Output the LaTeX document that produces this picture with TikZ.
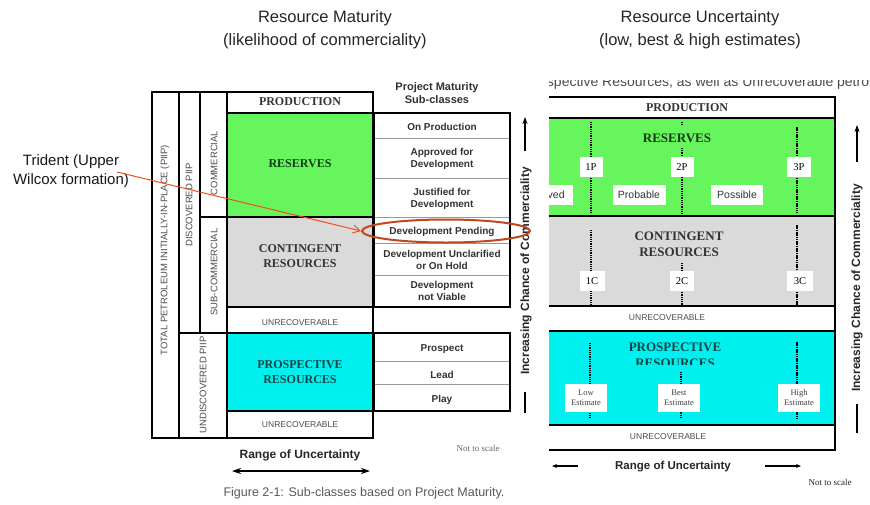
\documentclass[tikz,border=0pt]{standalone}
\usepackage{fontspec}
\setmainfont{Liberation Serif}
\setsansfont{Liberation Sans}
\usetikzlibrary{arrows.meta,shapes.geometric}
\definecolor{resgreen}{RGB}{102,245,92}
\definecolor{rescyan}{RGB}{0,240,240}
\definecolor{resgray}{RGB}{218,218,218}
\definecolor{ovalred}{RGB}{192,72,30}
\definecolor{arrred}{RGB}{240,80,30}
\definecolor{txtgreen}{RGB}{20,60,20}
\definecolor{txtteal}{RGB}{15,70,70}
\definecolor{txtgray}{RGB}{50,50,50}
\tikzset{
  bx/.style={line width=2pt, black},
  sepline/.style={line width=0.6pt, black!40},
  hdr/.style={font=\sffamily\fontsize{16.5}{23}\selectfont, text=black!85, align=center},
  sub/.style={font=\sffamily\bfseries\fontsize{10}{12.5}\selectfont, text=txtgray, align=center},
  mainlbl/.style={font=\bfseries\fontsize{12}{15}\selectfont, align=center},
  tinylbl/.style={font=\sffamily\fontsize{8.5}{9}\selectfont, text=black!70},
  vlbl/.style={font=\sffamily\fontsize{9.5}{10}\selectfont, text=black!70, rotate=90},
  vtitle/.style={font=\sffamily\bfseries\fontsize{12}{14}\selectfont, text=black!85, rotate=90},
  dotl/.style={line width=1.1pt, dash pattern=on 0.9pt off 0.9pt},
  dotthick/.style={line width=1.8pt, dash pattern=on 1.6pt off 0.7pt},
  tag/.style={fill=white, inner sep=0pt, font=\fontsize{10.5}{12}\selectfont},
  stag/.style={fill=white, inner sep=0pt, font=\sffamily\fontsize{10.5}{12}\selectfont, text=black!80},
  etag/.style={fill=white, inner sep=0pt, align=center, font=\fontsize{8.5}{10}\selectfont, text=black!75, minimum width=42pt, minimum height=28pt},
  dblarrow/.style={line width=1.6pt, arrows={Stealth[length=9pt,width=6pt]-Stealth[length=9pt,width=6pt]}},
}
\begin{document}
\begin{tikzpicture}[x=1pt,y=-1pt]
\useasboundingbox (0,0) rectangle (870,504);
\fill[white] (0,0) rectangle (870,504);

% headers
\node[hdr] (hmat) at (325,30) {Resource Maturity\\(likelihood of commerciality)};
\node[hdr] (hunc) at (700,30) {Resource Uncertainty\\(low, best \& high estimates)};

% ---------- left panel ----------
\fill[resgreen] (227,113) rectangle (373,217);
\fill[resgray] (227,217) rectangle (373,307);
\fill[rescyan] (227,333) rectangle (373,411);
\draw[bx] (152,92) rectangle (373,438);
\draw[bx] (179,92) -- (179,438);
\draw[bx] (200,92) -- (200,333);
\draw[bx] (179,333) -- (227,333);
\draw[bx] (200,217) -- (227,217);
\draw[bx] (227,92) -- (227,438);
\draw[bx] (227,113) -- (373,113);
\draw[bx] (227,217) -- (373,217);
\draw[bx] (227,307) -- (373,307);
\draw[bx] (227,333) -- (373,333);
\draw[bx] (227,411) -- (373,411);

% sub-class boxes
\foreach \yy in {138,178,217,243,275} \draw[sepline] (374,\yy) -- (510,\yy);
\foreach \yy in {361,384} \draw[sepline] (374,\yy) -- (510,\yy);
\draw[bx] (374,113) rectangle (510,307);
\draw[bx] (374,333) rectangle (510,411);

% column labels
\node[vlbl] (ltot) at (165,250) {TOTAL PETROLEUM INITIALLY-IN-PLACE (PIIP)};
\node[vlbl] (ldisc) at (189,205) {DISCOVERED PIIP};
\node[vlbl] (lcom) at (214,163) {COMMERCIAL};
\node[vlbl] (lsub) at (214,272) {SUB-COMMERCIAL};
\node[vlbl] (lund) at (203,385) {UNDISCOVERED PIIP};

% main labels
\node[mainlbl, text=black!80] (lprod) at (300,102) {PRODUCTION};
\node[mainlbl, text=txtgreen] (lres) at (300,164) {RESERVES};
\node[mainlbl, text=txtgray] (lcont) at (300,256) {CONTINGENT\\RESOURCES};
\node[tinylbl] (lunr1) at (300,323) {UNRECOVERABLE};
\node[mainlbl, text=txtteal] (lpros) at (300,372) {PROSPECTIVE\\RESOURCES};
\node[tinylbl] (lunr2) at (300,425) {UNRECOVERABLE};

% sub-class texts
\node[sub, font=\sffamily\bfseries\fontsize{11}{13}\selectfont] (pmh) at (437,93) {Project Maturity\\Sub-classes};
\node[sub] (s1) at (442,127) {On Production};
\node[sub] (s2) at (442,159) {Approved for\\Development};
\node[sub] (s3) at (442,199) {Justified for\\Development};
\node[sub] (s4) at (442,232) {Development Pending};
\node[sub] (s5) at (442,260) {Development Unclarified\\or On Hold};
\node[sub] (s6) at (442,291) {Development\\not Viable};
\node[sub] (s7) at (442,349) {Prospect};
\node[sub] (s8) at (442,375) {Lead};
\node[sub] (s9) at (442,400) {Play};

% left vertical title
\node[vtitle] (icl) at (526,271) {Increasing Chance of Commerciality};
\coordinate (ila) at (525,151);
\coordinate (ilb) at (525,117);
\draw[line width=1.5pt, -{Stealth[length=7pt,width=5pt]}] (ila) -- (ilb);
\coordinate (ilc) at (525,392);
\coordinate (ild) at (525,413);
\draw[line width=1.5pt] (ilc) -- (ild);

% range of uncertainty left
\node[font=\sffamily\bfseries\fontsize{12}{14}\selectfont, text=black!85] (rul) at (300,455) {Range of Uncertainty};
\coordinate (rulA) at (232,471);
\coordinate (rulB) at (370,471);
\draw[dblarrow] (rulA) -- (rulB);
\node[font=\fontsize{9}{11}\selectfont, text=black!60] (nts1) at (478,448) {Not to scale};
\node[font=\sffamily\fontsize{12.5}{14}\selectfont, text=black!65] (fig) at (364,493) {Figure 2-1: Sub-classes based on Project Maturity.};

% Trident annotation
\node[font=\sffamily\fontsize{15}{19}\selectfont, align=center, text=black!90] (trident) at (71,171) {Trident (Upper\\Wilcox formation)};
\node[draw=ovalred, line width=2pt, ellipse, minimum width=168pt, minimum height=23pt, inner sep=0pt] (pend) at (446,231) {};
\coordinate (trs) at (117,172);
\draw[arrred, line width=1pt, -{Straight Barb[length=7pt,width=8pt]}] (trs) -- (pend.west);

% ---------- right panel ----------
\begin{scope}
\clip (549,0) rectangle (870,504);
% cut text at top
\begin{scope}
\clip (549,80) rectangle (870,92);
\node[anchor=base west, inner sep=0pt, font=\sffamily\fontsize{14}{16}\selectfont, text=black!70] (cuttxt) at (525,86) {Prospective Resources, as well as Unrecoverable petroleum};
\end{scope}
\fill[resgreen] (520,118) rectangle (835,216);
\fill[resgray] (520,216) rectangle (835,306);
\fill[rescyan] (520,331) rectangle (835,425);
\foreach \yy in {97,118,216,306,331,425,450} \draw[bx] (520,\yy) -- (835,\yy);
\draw[bx] (835,96) -- (835,451);

\node[mainlbl, text=black!80] (rprod) at (687,108) {PRODUCTION};
\node[mainlbl, text=txtgreen, font=\bfseries\fontsize{13}{15}\selectfont] (rres) at (677,138) {RESERVES};
\node[mainlbl, text=txtgray, font=\bfseries\fontsize{13}{16}\selectfont] (rcont) at (679,244) {CONTINGENT\\RESOURCES};
\node[tinylbl] (runr1) at (667,318) {UNRECOVERABLE};
\node[tinylbl] (runr2) at (668,437) {UNRECOVERABLE};
\node[mainlbl, text=txtteal, font=\bfseries\fontsize{13}{15}\selectfont] (rpros) at (675,347) {PROSPECTIVE};
\begin{scope}
\clip (549,331) rectangle (835,364.5);
\node[mainlbl, text=txtteal, font=\bfseries\fontsize{13}{15}\selectfont] (rpros2) at (675,363) {RESOURCES};
\end{scope}

% dotted lines reserves
\draw[dotl] (591,122) -- (591,213);
\draw[dotl] (682,122) -- (682,125);
\draw[dotl] (682,148) -- (682,213);
\draw[dotthick] (797,127) -- (797,213);
% contingent
\draw[dotl] (591,230) -- (591,305);
\draw[dotl] (682,263) -- (682,305);
\draw[dotthick] (797,225) -- (797,305);
% prospective
\draw[dotl] (590,343) -- (590,418);
\draw[dotl] (681,372) -- (681,418);
\draw[dotthick] (797,342) -- (797,418);

% tags
\node[tag, minimum width=23pt, minimum height=20pt] (t1p) at (591,167) {1P};
\node[tag, minimum width=23pt, minimum height=20pt] (t2p) at (682,167) {2P};
\node[tag, minimum width=24pt, minimum height=20pt] (t3p) at (799,167) {3P};
\node[stag, minimum width=50pt, minimum height=20pt] (tprv) at (548,195) {Proved};
\node[stag, minimum width=53pt, minimum height=20pt] (tprb) at (639,195) {Probable};
\node[stag, minimum width=52pt, minimum height=20pt] (tpos) at (737,195) {Possible};
\node[tag, minimum width=25pt, minimum height=20pt] (t1c) at (592,281) {1C};
\node[tag, minimum width=24pt, minimum height=20pt] (t2c) at (682,281) {2C};
\node[tag, minimum width=26pt, minimum height=20pt] (t3c) at (800,281) {3C};
\node[etag] (tlow) at (586,398) {Low\\Estimate};
\node[etag] (tbest) at (679,398) {Best\\Estimate};
\node[etag] (thigh) at (799,398) {High\\Estimate};

% bottom
\node[font=\sffamily\bfseries\fontsize{11.5}{14}\selectfont, text=black!85] (rur) at (673,467) {Range of Uncertainty};
\coordinate (rla) at (578,466);
\coordinate (rlb) at (552,466);
\draw[line width=1.2pt, -{Stealth[length=5pt,width=4pt]}] (rla) -- (rlb);
\coordinate (rra) at (765,466);
\coordinate (rrb) at (801,466);
\draw[line width=1.2pt, -{Stealth[length=5pt,width=4pt]}] (rra) -- (rrb);
\node[font=\fontsize{9}{11}\selectfont, text=black!85] (nts2) at (830,482) {Not to scale};
\end{scope}

% right vertical title
\node[vtitle] (icr) at (857,288) {Increasing Chance of Commerciality};
\coordinate (ira) at (857,162);
\coordinate (irb) at (857,125);
\draw[line width=1.5pt, -{Stealth[length=7pt,width=5pt]}] (ira) -- (irb);
\coordinate (irc) at (857,404);
\coordinate (ird) at (857,433);
\draw[line width=1.5pt] (irc) -- (ird);
\end{tikzpicture}
\end{document}
